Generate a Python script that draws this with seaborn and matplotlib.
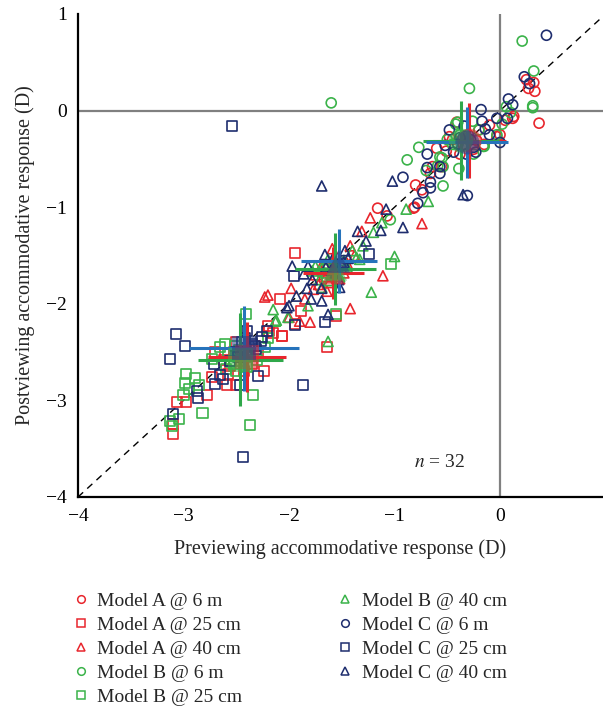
import numpy as np
import pandas as pd
import matplotlib
matplotlib.use("Agg")
import matplotlib.pyplot as plt
from matplotlib.lines import Line2D
import seaborn as sns

# ---------------- data ----------------
labels = ["Model A @ 6 m", "Model A @ 25 cm", "Model A @ 40 cm",
          "Model B @ 6 m", "Model B @ 25 cm", "Model B @ 40 cm",
          "Model C @ 6 m", "Model C @ 25 cm", "Model C @ 40 cm"]

a6_x = [0.25, 0.32, 0.27, 0.33, 0.37, 0.12, 0.13, -0.03, 0.0, -0.48, -0.41, -0.60, -0.51, -0.38, -0.64, -0.55,
        -0.66, -0.80, -0.74, -0.81, -0.22, -1.16, -0.82, -1.07, -0.30, -0.25, -0.35, -0.20, -0.45, -0.15, 0.05, -0.10]
a6_y = [0.32, 0.29, 0.23, 0.20, -0.13, -0.08, -0.06, -0.27, -0.25, -0.27, -0.12, -0.39, -0.42, -0.45, -0.58, -0.58,
        -0.65, -0.77, -0.82, -1.00, -0.31, -1.01, -1.01, -1.09, -0.25, -0.40, -0.35, -0.20, -0.30, -0.35, -0.10, -0.15]

b6_x = [0.21, 0.32, 0.31, 0.31, -0.29, -0.26, 0.02, 0.06, -0.77, -0.88, -0.16, -0.39, -0.54, -0.57, -0.54, -0.40,
        -0.03, -1.60, -0.55, -0.59, -0.42, -0.38, -1.04, 0.10, -0.15, -0.30, -0.35, -0.45, -0.25, -0.50, -0.20, -0.70]
b6_y = [0.72, 0.41, 0.05, 0.03, 0.23, -0.11, -0.14, 0.04, -0.38, -0.51, -0.37, -0.60, -0.78, -0.48, -0.58, -0.12,
        -0.25, 0.08, -0.49, -0.57, -0.14, -0.25, -1.13, -0.02, -0.37, -0.30, -0.28, -0.35, -0.45, -0.30, -0.20, -0.62]

c6_x = [0.44, 0.23, 0.28, 0.08, 0.12, 0.07, -0.03, -0.18, -0.17, -0.14, -0.34, -0.48, 0.0, -0.23, -0.32, -0.44,
        -0.52, -0.69, -0.69, -0.57, -0.57, -0.66, -0.73, -0.78, -0.92, -0.31, -0.66, -0.28, -0.38, -0.25, -0.40, -0.10]
c6_y = [0.78, 0.35, 0.28, 0.12, 0.06, -0.08, -0.08, 0.01, -0.11, -0.19, -0.16, -0.20, -0.33, -0.43, -0.45, -0.43,
        -0.36, -0.45, -0.59, -0.58, -0.65, -0.74, -0.85, -0.96, -0.69, -0.88, -0.80, -0.30, -0.28, -0.38, -0.35, -0.25]

a25_x = [-2.15, -2.07, -2.20, -2.70, -2.59, -2.50, -2.24, -2.78, -2.98, -3.06, -3.10, -3.10, -2.73, -2.56, -2.58, -2.43,
         -2.52, -1.94, -2.09, -1.89, -1.94, -2.07, -2.19, -1.64, -1.55, -2.32, -2.29, -2.45, -2.38, -2.35, -2.50, -2.62]
a25_y = [-2.30, -2.33, -2.23, -2.50, -2.84, -2.84, -2.70, -2.94, -3.02, -3.02, -3.24, -3.35, -2.76, -2.64, -2.73, -2.70,
         -2.50, -1.47, -1.95, -2.07, -2.21, -2.33, -2.28, -2.45, -2.13, -2.44, -2.51, -2.55, -2.48, -2.62, -2.40, -2.58]

b25_x = [-2.41, -2.61, -2.51, -2.73, -2.98, -2.89, -2.99, -2.95, -2.85, -3.00, -3.04, -3.13, -3.11, -2.82, -2.37, -2.34,
         -2.23, -1.55, -1.03, -2.55, -2.45, -2.48, -2.40, -2.58, -2.50, -2.30, -2.65, -2.42, -2.20, -2.60, -2.47, -2.52]
b25_y = [-2.11, -2.42, -2.44, -2.57, -2.73, -2.77, -2.82, -2.88, -2.84, -2.94, -3.19, -3.21, -3.27, -3.13, -3.25, -2.94,
         -2.45, -2.11, -1.59, -2.60, -2.55, -2.50, -2.65, -2.52, -2.70, -2.58, -2.45, -2.40, -2.35, -2.68, -2.48, -2.62]

c25_x = [-3.07, -2.99, -3.13, -2.44, -2.86, -2.87, -3.10, -2.70, -2.46, -2.29, -2.40, -2.21, -2.31, -2.56, -2.71, -2.65,
         -2.63, -1.24, -1.95, -1.66, -2.32, -2.26, -1.94, -2.54, -1.87, -2.45, -2.38, -2.50, -2.42, -2.35, -2.48, -2.27]
c25_y = [-2.31, -2.44, -2.57, -3.59, -2.98, -2.90, -3.14, -2.83, -2.84, -2.75, -2.28, -2.28, -2.47, -2.59, -2.62, -2.74,
         -2.78, -1.48, -1.71, -2.19, -2.44, -2.34, -2.22, -0.16, -2.84, -2.40, -2.45, -2.50, -2.35, -2.42, -2.55, -2.38]

a40_x = [-1.23, -0.74, -1.11, -1.42, -1.80, -1.90, -2.23, -1.98, -1.42, -1.59, -1.31, -1.64, -1.77, -1.60, -2.20, -2.00,
         -1.55, -1.50, -1.65, -1.70, -1.58, -1.48, -1.62, -1.75, -1.68, -1.52, -1.45, -1.85, -1.38, -1.57, -1.72, -1.66]
a40_y = [-1.11, -1.17, -1.71, -2.05, -2.19, -2.18, -1.93, -1.84, -1.40, -1.43, -1.25, -1.87, -1.85, -1.64, -1.91, -2.14,
         -1.70, -1.60, -1.72, -1.62, -1.55, -1.68, -1.78, -1.70, -1.66, -1.74, -1.58, -1.95, -1.50, -1.63, -1.80, -1.60]

b40_x = [-0.68, -0.89, -1.12, -1.20, -1.00, -1.22, -1.63, -2.15, -2.13, -2.01, -1.82, -1.69, -1.63, -1.36, -1.33, -1.71,
         -1.69, -1.75, -2.12, -1.55, -1.60, -1.50, -1.65, -1.58, -1.45, -1.52, -1.78, -1.40, -1.62, -1.48, -1.57, -1.30]
b40_y = [-0.94, -1.02, -1.16, -1.26, -1.51, -1.88, -2.39, -2.06, -2.18, -2.14, -2.02, -1.63, -1.54, -1.52, -1.54, -1.75,
         -1.83, -1.61, -2.17, -1.65, -1.70, -1.60, -1.68, -1.58, -1.62, -1.72, -1.66, -1.45, -1.76, -1.55, -1.64, -1.40]

c40_x = [-1.02, -0.35, -1.08, -1.69, -1.13, -0.92, -1.35, -1.27, -1.47, -1.66, -1.97, -1.82, -1.86, -1.78, -1.83, -1.69,
         -1.79, -1.69, -1.93, -2.00, -1.63, -1.52, -1.53, -1.44, -2.02, -1.55, -1.60, -1.50, -1.58, -1.65, -1.48, -1.56]
c40_y = [-0.73, -0.87, -1.02, -0.78, -1.24, -1.21, -1.25, -1.35, -1.45, -1.49, -1.61, -1.61, -1.69, -1.75, -1.84, -1.84,
         -1.95, -1.97, -1.92, -2.02, -2.11, -1.83, -1.75, -1.53, -2.04, -1.60, -1.65, -1.58, -1.52, -1.62, -1.57, -1.68]

# group means and SDs (read from the crosshairs)
mean_x = [-0.29, -2.40, -1.58, -0.37, -2.46, -1.56, -0.31, -2.43, -1.53]
mean_y = [-0.31, -2.55, -1.68, -0.31, -2.58, -1.64, -0.33, -2.46, -1.56]
sd_x = [0.35, 0.37, 0.29, 0.36, 0.40, 0.38, 0.39, 0.52, 0.36]
sd_y = [0.39, 0.36, 0.27, 0.41, 0.48, 0.37, 0.37, 0.44, 0.33]

xs = [a6_x, a25_x, a40_x, b6_x, b25_x, b40_x, c6_x, c25_x, c40_x]
ys = [a6_y, a25_y, a40_y, b6_y, b25_y, b40_y, c6_y, c25_y, c40_y]

# ---------------- styles ----------------
model_col = {"A": "#e8262d", "B": "#3bb34a", "C": "#1e2d6e"}
bar_col = {"A": "#e8262d", "B": "#2fa84a", "C": "#2673bb"}
mean_col = {"A": "#e8262d", "B": "#3bb34a", "C": "#2a3f86"}
dist_marker = {"6 m": "o", "25 cm": "s", "40 cm": "^"}

rows = []
for lab, xv, yv in zip(labels, xs, ys):
    for a, b in zip(xv, yv):
        rows.append((lab, a, b))
df = pd.DataFrame(rows, columns=["series", "pre", "post"])

sns.set_theme(style="white")
plt.rcParams["font.family"] = ["Liberation Serif", "DejaVu Serif"]
plt.rcParams["mathtext.fontset"] = "stix"

fig = plt.figure(figsize=(6.03, 7.16), dpi=100)
ax = fig.add_axes([78 / 603, 1 - 497 / 716, (603 - 78) / 603, (497 - 14) / 716])

ax.axhline(0, color="#808080", lw=1.6, zorder=1)
ax.axvline(0, color="#808080", lw=1.6, zorder=1)
ax.plot([-4, 1], [-4, 1], color="black", lw=1.0, dashes=(5, 4), zorder=1)

for lab in labels:
    model = lab.split()[1]
    dist = lab.split("@ ")[1]
    sub = df[df.series == lab]
    sns.scatterplot(data=sub, x="pre", y="post", marker=dist_marker[dist], s=52,
                    facecolor="none", edgecolor=model_col[model], linewidth=1.2,
                    ax=ax, legend=False, zorder=2)

for i, lab in enumerate(labels):
    model = lab.split()[1]
    c = bar_col[model]
    ax.plot([mean_x[i] - sd_x[i], mean_x[i] + sd_x[i]], [mean_y[i], mean_y[i]], color=c, lw=2.2, zorder=3,
            solid_capstyle="butt")
    ax.plot([mean_x[i], mean_x[i]], [mean_y[i] - sd_y[i], mean_y[i] + sd_y[i]], color=c, lw=2.2, zorder=3,
            solid_capstyle="butt")

for i, lab in enumerate(labels):
    model = lab.split()[1]
    dist = lab.split("@ ")[1]
    sz = 300 if dist != "40 cm" else 280
    ax.scatter([mean_x[i]], [mean_y[i]], marker=dist_marker[dist], s=sz, color=mean_col[model],
               alpha=0.55, edgecolor="none", zorder=4)

ax.set_xlim(-4, 0.976)
ax.set_ylim(-4, 1)
ax.set_xticks([-4, -3, -2, -1, 0])
ax.set_yticks([-4, -3, -2, -1, 0, 1])
ax.tick_params(direction="in", length=4, width=1.2, labelsize=14, colors="black", pad=8)
for s in ["top", "right"]:
    ax.spines[s].set_visible(False)
for s in ["left", "bottom"]:
    ax.spines[s].set_color("black")
    ax.spines[s].set_linewidth(1.6)
ax.set_xlabel("Previewing accommodative response (D)", fontsize=14.5, labelpad=10)
ax.set_ylabel("Postviewing accommodative response (D)", fontsize=14.5, labelpad=8)
ax.grid(False)

ax.text(-0.57, -3.64, r"$n$ = 32", fontsize=14, ha="center", va="center")

handles = []
for lab in labels:
    model = lab.split()[1]
    dist = lab.split("@ ")[1]
    handles.append(Line2D([], [], linestyle="none", marker=dist_marker[dist], markersize=5.5,
                          markerfacecolor="none", markeredgecolor=model_col[model], markeredgewidth=1.1,
                          label=lab))
fig.legend(handles=handles, ncol=2, loc="upper left", bbox_to_anchor=(71 / 603, 1 - 592 / 716),
           frameon=False, fontsize=14, handlelength=1.0, handletextpad=0.34, labelspacing=0.33,
           columnspacing=4.8, borderaxespad=0, borderpad=0)

fig.savefig("out.png", dpi=100)
